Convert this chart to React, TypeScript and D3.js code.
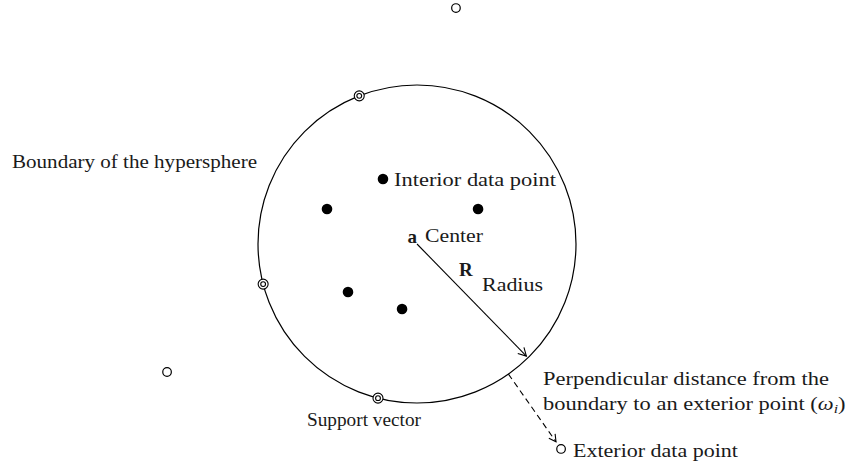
import React, { useEffect, useRef } from "react";
import * as d3 from "d3";

const W = 847;
const H = 470;

// Geometry in "radius units": hypersphere centred at (0,0) with R = 1
const sphereCenter: [number, number] = [0, 0];
const sphereRadius = 1;

const interiorPoints: [number, number][] = [
  [-0.214, 0.409],
  [-0.566, 0.22],
  [0.384, 0.22],
  [-0.434, -0.302],
  [-0.094, -0.409],
];

// support vectors lie on the boundary, given by angle (degrees)
const supportAngles: number[] = [111.3, 194.6, 255.8];

const exteriorPoints: [number, number][] = [
  [0.245, 1.484],
  [-1.572, -0.805],
  [0.906, -1.289],
];

const radiusAngle = -45.7; // degrees
const radiusArrowEnd = 0.985;
const distanceTarget = 2; // index into exteriorPoints
const distanceArrowEnd = 0.965; // fraction of exterior point distance

const labelTexts: string[] = [
  "Boundary of the hypersphere",
  "Interior data point",
  "Center",
  "Radius",
  "Perpendicular distance from the",
  "Exterior data point",
  "Support vector",
];
const labelX: number[] = [12, 394, 425, 482, 543, 573, 307];
const labelY: number[] = [168, 186, 242, 291, 385, 457, 426];
const labelW: number[] = [245, 162, 58, 61, 286, 165, 114];

const line2Text = "boundary to an exterior point (";

export default function App() {
  const ref = useRef<SVGSVGElement>(null);

  const x = d3.scaleLinear().domain([-1, 1]).range([258, 576]);
  const y = d3.scaleLinear().domain([-1, 1]).range([403, 85]);
  const rpx = x(sphereRadius) - x(0);
  const rad = (a: number) => (a * Math.PI) / 180;

  const arrowHead = (x0: number, y0: number, x1: number, y1: number, len = 9) => {
    const ang = Math.atan2(y1 - y0, x1 - x0);
    const p = d3.path();
    p.moveTo(x1 + len * Math.cos(ang + Math.PI - 0.5), y1 + len * Math.sin(ang + Math.PI - 0.5));
    p.lineTo(x1, y1);
    p.lineTo(x1 + len * Math.cos(ang + Math.PI + 0.5), y1 + len * Math.sin(ang + Math.PI + 0.5));
    return p.toString();
  };

  const cx = x(sphereCenter[0]);
  const cy = y(sphereCenter[1]);
  const rEndX = x(radiusArrowEnd * Math.cos(rad(radiusAngle)));
  const rEndY = y(radiusArrowEnd * Math.sin(rad(radiusAngle)));

  const ep = exteriorPoints[distanceTarget];
  const eAng = Math.atan2(ep[1], ep[0]);
  const eDist = Math.hypot(ep[0], ep[1]);
  const dStartX = x(Math.cos(eAng));
  const dStartY = y(Math.sin(eAng));
  const dEndX = x(eDist * distanceArrowEnd * Math.cos(eAng));
  const dEndY = y(eDist * distanceArrowEnd * Math.sin(eAng));

  useEffect(() => {
    const svg = ref.current;
    if (!svg) return;
    let factor = 1;
    const texts = svg.querySelectorAll("text[data-w]");
    texts.forEach((t) => {
      const el = t as SVGTextElement;
      const nat = el.getComputedTextLength();
      const w = Number(el.getAttribute("data-w"));
      if (el.id === "perp1") factor = w / nat;
      el.setAttribute("textLength", String(w));
      el.setAttribute("lengthAdjust", "spacingAndGlyphs");
    });
    const l2 = svg.querySelector("#perp2") as SVGTextElement | null;
    if (l2) {
      const nat2 = l2.getComputedTextLength();
      l2.setAttribute("textLength", String(nat2 * factor));
      l2.setAttribute("lengthAdjust", "spacingAndGlyphs");
    }
  }, []);

  const font = "Liberation Serif, serif";
  const fs = 19;

  return (
    <svg ref={ref} width={W} height={H} style={{ position: "absolute", left: 0, top: 0, background: "#fff" }}>
      <rect width={W} height={H} fill="#fff" />
      <circle cx={cx} cy={cy} r={rpx} fill="none" stroke="#000" strokeWidth={1.2} />

      {interiorPoints.map((p, i) => (
        <circle key={"i" + i} cx={x(p[0])} cy={y(p[1])} r={5.3} fill="#000" />
      ))}

      {supportAngles.map((a, i) => {
        const px = x(sphereRadius * Math.cos(rad(a)));
        const py = y(sphereRadius * Math.sin(rad(a)));
        return (
          <g key={"s" + i}>
            <circle cx={px} cy={py} r={5} fill="#fff" stroke="#000" strokeWidth={1.1} />
            <circle cx={px} cy={py} r={2.4} fill="none" stroke="#000" strokeWidth={1.1} />
          </g>
        );
      })}

      {exteriorPoints.map((p, i) => (
        <circle key={"e" + i} cx={x(p[0])} cy={y(p[1])} r={4.3} fill="#fff" stroke="#000" strokeWidth={1.2} />
      ))}

      {/* radius arrow */}
      <line x1={cx} y1={cy} x2={rEndX} y2={rEndY} stroke="#000" strokeWidth={1.1} />
      <path d={arrowHead(cx, cy, rEndX, rEndY)} fill="none" stroke="#000" strokeWidth={1.1} />

      {/* distance arrow */}
      <line x1={dStartX} y1={dStartY} x2={dEndX} y2={dEndY} stroke="#000" strokeWidth={1.1} strokeDasharray="6,4" />
      <path d={arrowHead(dStartX, dStartY, dEndX, dEndY, 8)} fill="none" stroke="#000" strokeWidth={1.1} />

      <g fontFamily={font} fontSize={fs} fill="#1a1a1a">
        {labelTexts.map((t, i) => (
          <text key={"l" + i} id={i === 4 ? "perp1" : undefined} x={labelX[i]} y={labelY[i]} data-w={labelW[i]}>
            {t}
          </text>
        ))}
        <text id="perp2" x={543} y={410}>
          {line2Text}
          <tspan fontStyle="italic">ω</tspan>
          <tspan fontStyle="italic" fontSize={fs * 0.7} dy={3}>i</tspan>
          <tspan dy={-3}>)</tspan>
        </text>
        <text x={cx} y={cy - 1} textAnchor="end" fontWeight="bold">a</text>
        <text x={459} y={276} fontWeight="bold">R</text>
      </g>
    </svg>
  );
}
